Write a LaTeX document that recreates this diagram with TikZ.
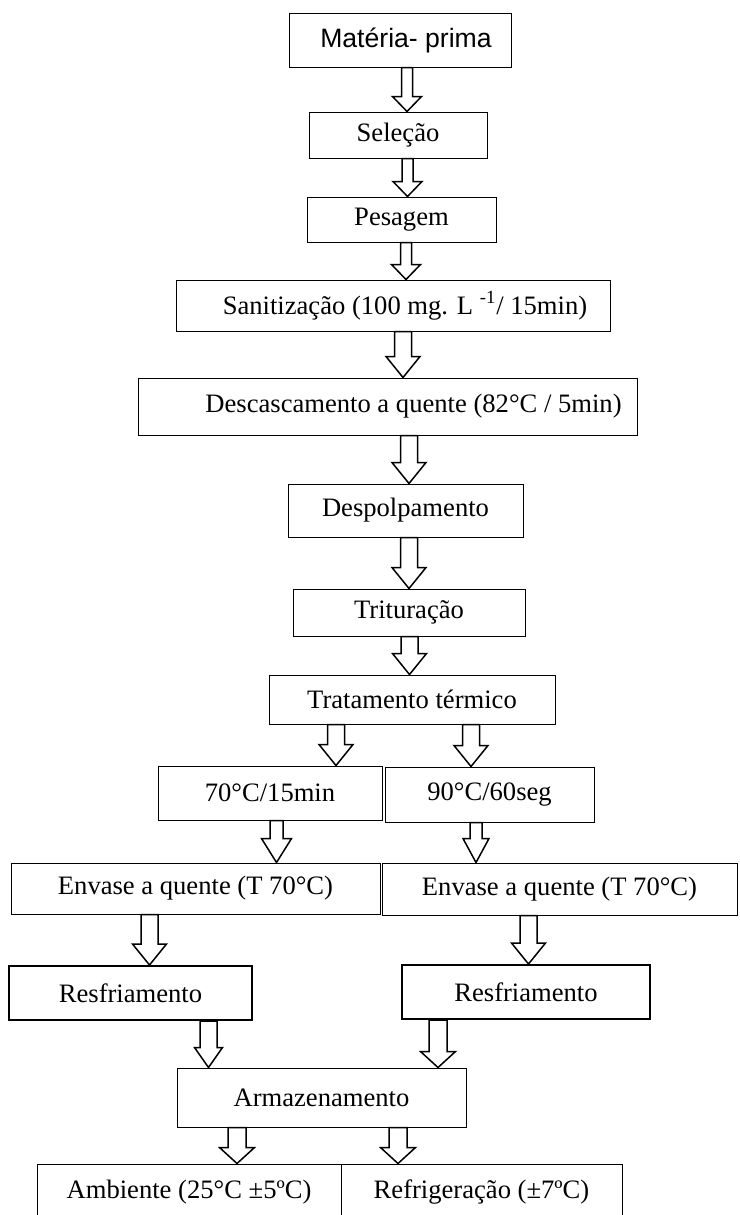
\documentclass[tikz,border=0pt]{standalone}
\usepackage{fontspec}
\setmainfont{Liberation Serif}
\newfontfamily\arialfont{Liberation Sans}
\usetikzlibrary{calc}

\begin{document}
\begin{tikzpicture}[x=0.5pt, y=-0.5pt, font=\fontsize{13.3}{16}\selectfont,
  box/.style 2 args={draw, line width=0.5pt, inner sep=0pt, minimum width=#1, minimum height=#2},
  boldbox/.style 2 args={box={#1}{#2}, line width=1pt},
  hollow/.style n args={3}{draw, fill=white, line width=0.75pt, line join=miter,
    to path={let \p1=(\tikztostart), \p2=(\tikztotarget) in
      (\x1-#1,\y1) -- (\x1-#1,\y2+#3) -- (\x1-#2,\y2+#3) -- (\x1,\y2)
      -- (\x1+#2,\y2+#3) -- (\x1+#1,\y2+#3) -- (\x1+#1,\y1) -- cycle}},
  slim/.style={hollow={2.75pt}{7.25pt}{7.5pt}},
  wide/.style={hollow={4.25pt}{8.5pt}{10.5pt}},
  stubby/.style={hollow={4.5pt}{8.75pt}{8pt}}]

\useasboundingbox (0,0) rectangle (739,1215);

% etapas em linha
\node [box={111pt}{27pt}] (mp) at (400,40) {\arialfont\hspace*{6pt}Matéria- prima};
\node [box={89pt}{23pt}] (sel) at (398,135) {Seleção};
\node [box={94.5pt}{22.5pt}] (pes) at (401.5,219.5) {Pesagem};
\node [box={217pt}{25.5pt}] (san) at (393,305.5) {\hspace*{12pt}Sanitização (100 mg. L \textsuperscript{-1}/ 15min)};
\node [box={249.5pt}{28.5pt}] (desc) at (387.5,406.5) {\hspace*{26pt}Descascamento a quente (82°C / 5min)};
\node [box={117.5pt}{26.5pt}] (desp) at (405.5,510.5) {Despolpamento};
\node [box={116pt}{23.5pt}] (trit) at (409,612.5) {Trituração};
\node [box={143pt}{24.5pt}] (trat) at (412,699.5) {Tratamento térmico};

% dois binomios
\node [box={112pt}{27pt}] (t70) at (270,793) {70°C/15min};
\node [box={104.5pt}{27.5pt}] (t90) at (489.5,794.5) {90°C/60seg};
\node [box={184.5pt}{25.5pt}] (envL) at (195.5,888.5) {Envase a quente (T 70°C)};
\node [box={177.5pt}{26pt}] (envR) at (559.5,889) {Envase a quente (T 70°C)};
\node [boldbox={121.5pt}{27pt}] (resL) at (130.5,993) {Resfriamento};
\node [boldbox={124pt}{27pt}] (resR) at (526,992) {Resfriamento};

% armazenamento
\node [box={144.5pt}{29.5pt}] (arm) at (321.5,1097.5) {Armazenamento};
\node [box={152pt}{28pt}] (amb) at (189,1192) {Ambiente (25°C ±5ºC)};
\node [box={140.5pt}{28pt}] (ref) at (481.5,1192) {Refrigeração (±7ºC)};

% setas
\draw [slim] (mp.south -| 407,0) to (sel.north);
\draw [slim] (sel.south -| 407.5,0) to (pes.north);
\draw [slim] (pes.south -| 406,0) to (san.north);
\draw [wide] (san.south -| 403,0) to (desc.north);
\draw [wide] (desc.south -| 409,0) to (desp.north);
\draw [wide] (desp.south -| 409,0) to (trit.north);
\draw [wide] (trit.south -| 409.5,0) to (trat.north);
\draw [wide] (trat.south -| 336,0) to (t70.north);
\draw [wide] (trat.south -| 471,0) to (t90.north);
\draw [hollow={3.25pt}{7.5pt}{12pt}] (t70.south -| 276.5,0) to (envL.north);
\draw [hollow={3pt}{6.5pt}{12pt}] (t90.south -| 476,0) to (envR.north);
\draw [wide] (envL.south -| 149.5,0) to (resL.north);
\draw [wide] (envR.south -| 528.5,0) to (resR.north);
\draw [hollow={4.25pt}{7pt}{10pt}] (resL.south -| 208.5,0) to (arm.north);
\draw [stubby] (resR.south -| 438,0) to (arm.north);
\draw [stubby] (arm.south -| 237,0) to (amb.north);
\draw [stubby] (arm.south -| 398,0) to (ref.north);

\end{tikzpicture}
\end{document}
